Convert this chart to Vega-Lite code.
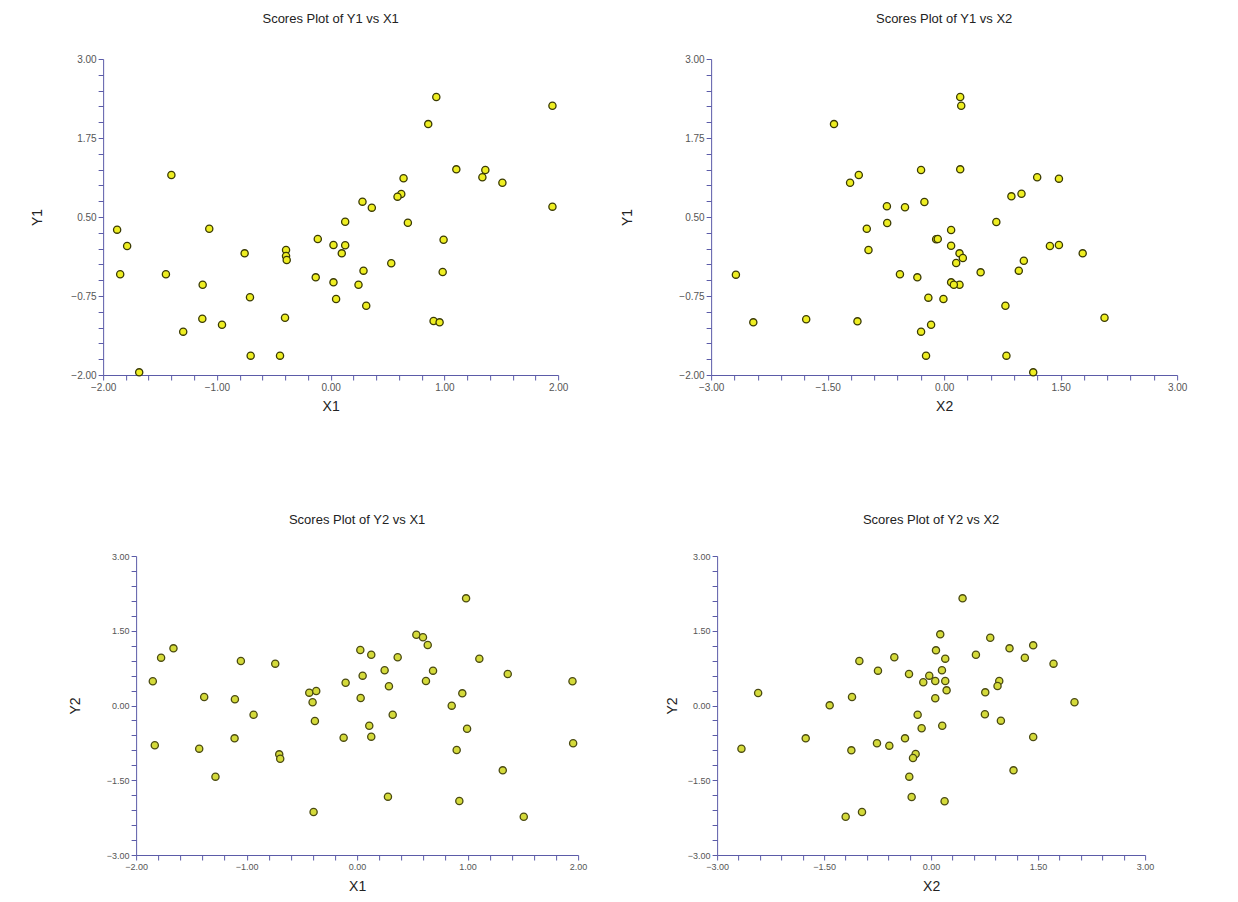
{
  "$schema": "https://vega.github.io/schema/vega-lite/v6.json",
  "padding": {"left": 3, "top": 13, "right": 5, "bottom": 5},
  "background": "white",
  "config": {
    "view": {"stroke": null},
    "font": "Liberation Sans",
    "axis": {
      "grid": false,
      "domainColor": "#5b5ba8",
      "tickColor": "#5b5ba8",
      "tickSize": 5,
      "labelColor": "#555555",
      "labelFontSize": 10,
      "labelOverlap": false,
      "labelFlush": false,
      "titleFontSize": 14,
      "titleFontWeight": "normal",
      "titleColor": "#222222"
    },
    "title": {"fontSize": 13, "fontWeight": "normal", "color": "#222222"}
  },
  "datasets": {
    "p1": [
      {"X1": 0.929, "Y1": 2.40}, {"X1": 1.95, "Y1": 2.26}, {"X1": 0.858, "Y1": 1.97}, {"X1": -1.40, "Y1": 1.165},
      {"X1": 1.105, "Y1": 1.254}, {"X1": 1.36, "Y1": 1.244}, {"X1": 1.334, "Y1": 1.128}, {"X1": 0.641, "Y1": 1.112},
      {"X1": 1.51, "Y1": 1.043}, {"X1": 0.621, "Y1": 0.864}, {"X1": 0.588, "Y1": 0.822}, {"X1": 0.28, "Y1": 0.743},
      {"X1": 0.362, "Y1": 0.648}, {"X1": 1.95, "Y1": 0.664}, {"X1": 0.128, "Y1": 0.426}, {"X1": 0.679, "Y1": 0.41},
      {"X1": -1.877, "Y1": 0.30}, {"X1": -1.067, "Y1": 0.315}, {"X1": -0.113, "Y1": 0.152}, {"X1": 0.993, "Y1": 0.141},
      {"X1": -1.789, "Y1": 0.041}, {"X1": 0.025, "Y1": 0.057}, {"X1": 0.128, "Y1": 0.052}, {"X1": 0.098, "Y1": -0.075},
      {"X1": -0.756, "Y1": -0.075}, {"X1": -0.392, "Y1": -0.022}, {"X1": -0.392, "Y1": -0.117}, {"X1": -0.386, "Y1": -0.18},
      {"X1": 0.533, "Y1": -0.233}, {"X1": -1.85, "Y1": -0.407}, {"X1": -1.448, "Y1": -0.407}, {"X1": 0.289, "Y1": -0.349},
      {"X1": 0.985, "Y1": -0.37}, {"X1": -0.131, "Y1": -0.455}, {"X1": 0.025, "Y1": -0.534}, {"X1": -1.125, "Y1": -0.571},
      {"X1": 0.245, "Y1": -0.571}, {"X1": -0.709, "Y1": -0.771}, {"X1": 0.048, "Y1": -0.797}, {"X1": 0.313, "Y1": -0.903},
      {"X1": -1.128, "Y1": -1.109}, {"X1": -0.401, "Y1": -1.093}, {"X1": -0.955, "Y1": -1.204}, {"X1": 0.905, "Y1": -1.146},
      {"X1": 0.958, "Y1": -1.167}, {"X1": -1.296, "Y1": -1.314}, {"X1": -0.703, "Y1": -1.694}, {"X1": -0.445, "Y1": -1.694},
      {"X1": -1.683, "Y1": -1.958}
    ],
    "p2": [
      {"X2": 0.207, "Y1": 2.40}, {"X2": 0.22, "Y1": 2.26}, {"X2": -1.418, "Y1": 1.97}, {"X2": -0.297, "Y1": 1.244},
      {"X2": 0.207, "Y1": 1.254}, {"X2": -1.099, "Y1": 1.165}, {"X2": -1.211, "Y1": 1.043}, {"X2": 1.198, "Y1": 1.128},
      {"X2": 1.478, "Y1": 1.107}, {"X2": 0.866, "Y1": 0.827}, {"X2": 0.996, "Y1": 0.869}, {"X2": -0.254, "Y1": 0.737},
      {"X2": -0.737, "Y1": 0.669}, {"X2": -0.504, "Y1": 0.653}, {"X2": 0.672, "Y1": 0.421}, {"X2": -0.733, "Y1": 0.405},
      {"X2": -0.996, "Y1": 0.315}, {"X2": 0.09, "Y1": 0.294}, {"X2": -0.103, "Y1": 0.147}, {"X2": -0.082, "Y1": 0.152},
      {"X2": 0.09, "Y1": 0.046}, {"X2": 1.362, "Y1": 0.041}, {"X2": 1.478, "Y1": 0.057}, {"X2": -0.974, "Y1": -0.022},
      {"X2": 0.198, "Y1": -0.075}, {"X2": 1.784, "Y1": -0.075}, {"X2": 0.241, "Y1": -0.149}, {"X2": 0.155, "Y1": -0.228},
      {"X2": 1.026, "Y1": -0.191}, {"X2": -2.681, "Y1": -0.412}, {"X2": -0.569, "Y1": -0.407}, {"X2": -0.345, "Y1": -0.455},
      {"X2": 0.47, "Y1": -0.376}, {"X2": 0.961, "Y1": -0.349}, {"X2": 0.09, "Y1": -0.534}, {"X2": 0.198, "Y1": -0.571},
      {"X2": 0.125, "Y1": -0.571}, {"X2": -0.203, "Y1": -0.776}, {"X2": -0.009, "Y1": -0.797}, {"X2": 0.789, "Y1": -0.903},
      {"X2": 2.065, "Y1": -1.093}, {"X2": -2.457, "Y1": -1.167}, {"X2": -1.776, "Y1": -1.119}, {"X2": -1.116, "Y1": -1.151},
      {"X2": -0.168, "Y1": -1.204}, {"X2": -0.297, "Y1": -1.314}, {"X2": -0.233, "Y1": -1.694}, {"X2": 0.802, "Y1": -1.694},
      {"X2": 1.147, "Y1": -1.958}
    ],
    "p3": [
      {"X1": 0.986, "Y2": 2.15}, {"X1": 0.536, "Y2": 1.42}, {"X1": 0.596, "Y2": 1.368}, {"X1": 0.639, "Y2": 1.214},
      {"X1": -1.662, "Y2": 1.147}, {"X1": -1.774, "Y2": 0.96}, {"X1": 0.029, "Y2": 1.114}, {"X1": 0.128, "Y2": 1.02},
      {"X1": 0.367, "Y2": 0.967}, {"X1": -1.052, "Y2": 0.893}, {"X1": -0.741, "Y2": 0.84}, {"X1": 1.106, "Y2": 0.94},
      {"X1": 0.249, "Y2": 0.706}, {"X1": 0.687, "Y2": 0.699}, {"X1": 0.05, "Y2": 0.599}, {"X1": 1.363, "Y2": 0.632},
      {"X1": -1.849, "Y2": 0.485}, {"X1": -0.104, "Y2": 0.458}, {"X1": 0.623, "Y2": 0.492}, {"X1": 1.949, "Y2": 0.485},
      {"X1": 0.288, "Y2": 0.385}, {"X1": -0.433, "Y2": 0.258}, {"X1": -0.37, "Y2": 0.291}, {"X1": 0.952, "Y2": 0.244},
      {"X1": -1.384, "Y2": 0.171}, {"X1": -1.106, "Y2": 0.124}, {"X1": 0.032, "Y2": 0.151}, {"X1": -0.403, "Y2": 0.064},
      {"X1": 0.856, "Y2": -0.003}, {"X1": -0.937, "Y2": -0.184}, {"X1": 0.322, "Y2": -0.184}, {"X1": -0.382, "Y2": -0.311},
      {"X1": 0.11, "Y2": -0.405}, {"X1": 0.995, "Y2": -0.465}, {"X1": -0.122, "Y2": -0.645}, {"X1": 0.128, "Y2": -0.625},
      {"X1": -1.109, "Y2": -0.659}, {"X1": -1.831, "Y2": -0.799}, {"X1": -1.429, "Y2": -0.866}, {"X1": 0.901, "Y2": -0.893},
      {"X1": 1.955, "Y2": -0.759}, {"X1": -0.705, "Y2": -0.98}, {"X1": -0.696, "Y2": -1.067}, {"X1": -1.282, "Y2": -1.428},
      {"X1": 1.318, "Y2": -1.301}, {"X1": 0.279, "Y2": -1.829}, {"X1": 0.925, "Y2": -1.916}, {"X1": -0.394, "Y2": -2.137},
      {"X1": 1.508, "Y2": -2.231}
    ],
    "p4": [
      {"X2": 0.441, "Y2": 2.15}, {"X2": 0.128, "Y2": 1.428}, {"X2": 0.829, "Y2": 1.361}, {"X2": 1.431, "Y2": 1.207},
      {"X2": 1.099, "Y2": 1.147}, {"X2": 0.068, "Y2": 1.107}, {"X2": 0.198, "Y2": 0.94}, {"X2": 0.628, "Y2": 1.02},
      {"X2": 1.314, "Y2": 0.96}, {"X2": -1.006, "Y2": 0.893}, {"X2": -0.516, "Y2": 0.967}, {"X2": 1.716, "Y2": 0.84},
      {"X2": -0.745, "Y2": 0.699}, {"X2": 0.152, "Y2": 0.706}, {"X2": -0.31, "Y2": 0.632}, {"X2": -0.026, "Y2": 0.599},
      {"X2": 0.058, "Y2": 0.492}, {"X2": -0.11, "Y2": 0.465}, {"X2": 0.198, "Y2": 0.492}, {"X2": 0.955, "Y2": 0.492},
      {"X2": 0.931, "Y2": 0.391}, {"X2": 0.217, "Y2": 0.304}, {"X2": 0.759, "Y2": 0.264}, {"X2": -2.425, "Y2": 0.251},
      {"X2": -1.109, "Y2": 0.171}, {"X2": 0.058, "Y2": 0.144}, {"X2": 2.01, "Y2": 0.064}, {"X2": -1.422, "Y2": 0.003},
      {"X2": -0.189, "Y2": -0.184}, {"X2": 0.754, "Y2": -0.177}, {"X2": 0.978, "Y2": -0.304}, {"X2": -0.133, "Y2": -0.458},
      {"X2": 0.156, "Y2": -0.405}, {"X2": -1.758, "Y2": -0.659}, {"X2": -0.366, "Y2": -0.659}, {"X2": 1.431, "Y2": -0.632},
      {"X2": -0.759, "Y2": -0.759}, {"X2": -0.586, "Y2": -0.806}, {"X2": -2.659, "Y2": -0.866}, {"X2": -1.118, "Y2": -0.9},
      {"X2": -0.217, "Y2": -0.973}, {"X2": -0.254, "Y2": -1.054}, {"X2": 1.155, "Y2": -1.301}, {"X2": -0.306, "Y2": -1.428},
      {"X2": -0.273, "Y2": -1.836}, {"X2": 0.189, "Y2": -1.923}, {"X2": -0.969, "Y2": -2.137}, {"X2": -1.198, "Y2": -2.231}
    ]
  },
  "center": true,
  "spacing": 101,
  "vconcat": [
    {
      "spacing": 43,
      "hconcat": [
        {
          "title": {"text": "Scores Plot of Y1 vs X1", "offset": 28},
          "width": 455, "height": 316,
          "data": {"name": "p1"},
          "mark": {"type": "circle", "size": 52, "fill": "#eeee22", "stroke": "#3a3a05", "strokeWidth": 1.3, "opacity": 1},
          "encoding": {
            "x": {"field": "X1", "type": "quantitative", "scale": {"domain": [-2, 2], "nice": false, "zero": false},
              "axis": {"title": "X1", "titlePadding": 7, "values": [-2,-1.8,-1.6,-1.4,-1.2,-1,-0.8,-0.6,-0.4,-0.2,0,0.2,0.4,0.6,0.8,1,1.2,1.4,1.6,1.8,2],
                "labelExpr": "abs(datum.value - round(datum.value)) < 0.001 ? format(datum.value, '.2f') : ''"}},
            "y": {"field": "Y1", "type": "quantitative", "scale": {"domain": [-2, 3], "nice": false, "zero": false},
              "axis": {"title": "Y1", "minExtent": 100, "titleX": -59, "values": [-2,-1.75,-1.5,-1.25,-1,-0.75,-0.5,-0.25,0,0.25,0.5,0.75,1,1.25,1.5,1.75,2,2.25,2.5,2.75,3],
                "labelExpr": "abs((datum.value + 2) / 1.25 - round((datum.value + 2) / 1.25)) < 0.001 ? format(datum.value, '.2f') : ''"}}
          }
        },
        {
          "title": {"text": "Scores Plot of Y1 vs X2", "offset": 28},
          "width": 466, "height": 316,
          "data": {"name": "p2"},
          "mark": {"type": "circle", "size": 52, "fill": "#eeee22", "stroke": "#3a3a05", "strokeWidth": 1.3, "opacity": 1},
          "encoding": {
            "x": {"field": "X2", "type": "quantitative", "scale": {"domain": [-3, 3], "nice": false, "zero": false},
              "axis": {"title": "X2", "titlePadding": 7, "values": [-3,-2.7,-2.4,-2.1,-1.8,-1.5,-1.2,-0.9,-0.6,-0.3,0,0.3,0.6,0.9,1.2,1.5,1.8,2.1,2.4,2.7,3],
                "labelExpr": "abs(datum.value / 1.5 - round(datum.value / 1.5)) < 0.001 ? format(datum.value, '.2f') : ''"}},
            "y": {"field": "Y1", "type": "quantitative", "scale": {"domain": [-2, 3], "nice": false, "zero": false},
              "axis": {"title": "Y1", "minExtent": 100, "titleX": -77, "values": [-2,-1.75,-1.5,-1.25,-1,-0.75,-0.5,-0.25,0,0.25,0.5,0.75,1,1.25,1.5,1.75,2,2.25,2.5,2.75,3],
                "labelExpr": "abs((datum.value + 2) / 1.25 - round((datum.value + 2) / 1.25)) < 0.001 ? format(datum.value, '.2f') : ''"}}
          }
        }
      ]
    },
    {
      "spacing": 70,
      "hconcat": [
        {
          "title": {"text": "Scores Plot of Y2 vs X1", "offset": 25},
          "width": 442, "height": 299,
          "data": {"name": "p3"},
          "mark": {"type": "circle", "size": 52, "fill": "#d4da3a", "stroke": "#4a4a12", "strokeWidth": 1.3, "opacity": 1},
          "encoding": {
            "x": {"field": "X1", "type": "quantitative", "scale": {"domain": [-2, 2], "nice": false, "zero": false},
              "axis": {"title": "X1", "titlePadding": 8, "labelFontSize": 9, "values": [-2,-1.8,-1.6,-1.4,-1.2,-1,-0.8,-0.6,-0.4,-0.2,0,0.2,0.4,0.6,0.8,1,1.2,1.4,1.6,1.8,2],
                "labelExpr": "abs(datum.value - round(datum.value)) < 0.001 ? format(datum.value, '.2f') : ''"}},
            "y": {"field": "Y2", "type": "quantitative", "scale": {"domain": [-3, 3], "nice": false, "zero": false},
              "axis": {"title": "Y2", "minExtent": 72, "titleX": -54, "labelFontSize": 9, "values": [-3,-2.7,-2.4,-2.1,-1.8,-1.5,-1.2,-0.9,-0.6,-0.3,0,0.3,0.6,0.9,1.2,1.5,1.8,2.1,2.4,2.7,3],
                "labelExpr": "abs(datum.value / 1.5 - round(datum.value / 1.5)) < 0.001 ? format(datum.value, '.2f') : ''"}}
          }
        },
        {
          "title": {"text": "Scores Plot of Y2 vs X2", "offset": 25},
          "width": 428, "height": 299,
          "data": {"name": "p4"},
          "mark": {"type": "circle", "size": 52, "fill": "#d4da3a", "stroke": "#4a4a12", "strokeWidth": 1.3, "opacity": 1},
          "encoding": {
            "x": {"field": "X2", "type": "quantitative", "scale": {"domain": [-3, 3], "nice": false, "zero": false},
              "axis": {"title": "X2", "titlePadding": 8, "labelFontSize": 9, "values": [-3,-2.7,-2.4,-2.1,-1.8,-1.5,-1.2,-0.9,-0.6,-0.3,0,0.3,0.6,0.9,1.2,1.5,1.8,2.1,2.4,2.7,3],
                "labelExpr": "datum.value == 3 ? '      3.00      ' : (abs(datum.value / 1.5 - round(datum.value / 1.5)) < 0.001 ? format(datum.value, '.2f') : '')"}},
            "y": {"field": "Y2", "type": "quantitative", "scale": {"domain": [-3, 3], "nice": false, "zero": false},
              "axis": {"title": "Y2", "minExtent": 60, "titleX": -38, "labelFontSize": 9, "values": [-3,-2.7,-2.4,-2.1,-1.8,-1.5,-1.2,-0.9,-0.6,-0.3,0,0.3,0.6,0.9,1.2,1.5,1.8,2.1,2.4,2.7,3],
                "labelExpr": "abs(datum.value / 1.5 - round(datum.value / 1.5)) < 0.001 ? format(datum.value, '.2f') : ''"}}
          }
        }
      ]
    }
  ]
}
